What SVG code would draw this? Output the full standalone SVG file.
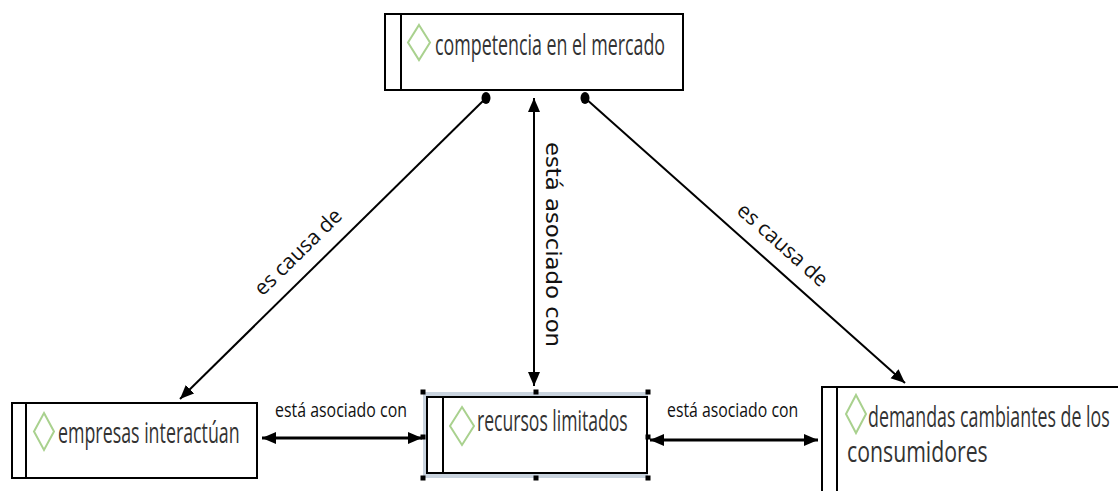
<svg xmlns="http://www.w3.org/2000/svg" width="1118" height="491" viewBox="0 0 1118 491">
<style>
.box{fill:#fff;stroke:#000;stroke-width:2}
.bar{stroke:#000;stroke-width:2}
.dia{fill:none;stroke:#a9d18e;stroke-width:2}
.nt{font-family:"Open Sans","Noto Sans",sans-serif;font-size:29px;fill:#333}
.lt{font-family:"Open Sans","DejaVu Sans",sans-serif;font-size:21px;fill:#111}
.vt{font-family:"DejaVu Sans",Verdana,sans-serif;font-size:22px;fill:#111}
.ht{font-family:"Open Sans","Noto Sans",sans-serif;font-size:20px;fill:#111}
.c{fill:none;stroke:#000;stroke-width:2}
.c3{fill:none;stroke:#000;stroke-width:3}
.h{fill:#000}
</style>
<defs>
<marker id="ah" markerUnits="userSpaceOnUse" markerWidth="16" markerHeight="14" refX="14" refY="6" orient="auto-start-reverse">
<path d="M0,0 L14,6 L0,12 Z" fill="#000"/>
</marker>
</defs>
<rect width="1118" height="491" fill="#fff"/>

<g id="connectors">
<line class="c" x1="486" y1="98" x2="180" y2="399" marker-end="url(#ah)"/>
<ellipse cx="486" cy="98" rx="4.5" ry="6" fill="#000"/>
<line class="c" x1="585" y1="98" x2="905" y2="383" marker-end="url(#ah)"/>
<ellipse cx="585" cy="98" rx="4.5" ry="6" fill="#000"/>
<line class="c" x1="534" y1="98" x2="534" y2="386" marker-start="url(#ah)" marker-end="url(#ah)"/>
<line class="c3" x1="262" y1="438" x2="422" y2="438" marker-start="url(#ah)" marker-end="url(#ah)"/>
<line class="c3" x1="650" y1="440" x2="818" y2="440" marker-start="url(#ah)" marker-end="url(#ah)"/>
<text class="lt" transform="translate(303,257) rotate(-44.5)" text-anchor="middle">es causa de</text>
<text class="lt" transform="translate(778,250) rotate(41.7)" text-anchor="middle">es causa de</text>
<text class="vt" transform="translate(546,142) rotate(90)" textLength="205" lengthAdjust="spacingAndGlyphs">está asociado con</text>
<text class="ht" transform="translate(275,417) scale(0.8,1)" textLength="165" lengthAdjust="spacingAndGlyphs">está asociado con</text>
<text class="ht" transform="translate(667,417) scale(0.8,1)" textLength="164" lengthAdjust="spacingAndGlyphs">está asociado con</text>
</g>

<g id="node-competencia">
<rect class="box" x="385" y="14" width="298" height="76"/>
<line class="bar" x1="401" y1="14" x2="401" y2="90"/>
<path class="dia" d="M419,25 L430,42.5 L419,60 L408,42.5 Z"/>
<text class="nt" transform="translate(435,55) scale(0.62,1)" textLength="371" lengthAdjust="spacingAndGlyphs">competencia en el mercado</text>
</g>

<g id="node-empresas">
<rect class="box" x="12" y="403" width="245" height="75"/>
<line class="bar" x1="26" y1="403" x2="26" y2="478"/>
<path class="dia" d="M44,413 L54,431.5 L44,450 L34,431.5 Z"/>
<text class="nt" transform="translate(58,443) scale(0.62,1)" textLength="293" lengthAdjust="spacingAndGlyphs">empresas interactúan</text>
</g>

<g id="node-recursos">
<rect x="423" y="392" width="225" height="86" fill="#c9d3de"/>
<rect class="box" x="427" y="397" width="220" height="76"/>
<line class="bar" x1="443" y1="397" x2="443" y2="473"/>
<path class="dia" d="M462,407 L474,426 L462,445 L450,426 Z"/>
<text class="nt" transform="translate(477,431) scale(0.62,1)" textLength="243" lengthAdjust="spacingAndGlyphs">recursos limitados</text>
<g class="h">
<rect x="420.5" y="389.5" width="5" height="5"/>
<rect x="533.5" y="389.5" width="5" height="5"/>
<rect x="645.5" y="389.5" width="5" height="5"/>
<rect x="420.5" y="434.5" width="5" height="5"/>
<rect x="645.5" y="434.5" width="5" height="5"/>
<rect x="420.5" y="475.5" width="5" height="5"/>
<rect x="533.5" y="475.5" width="5" height="5"/>
<rect x="645.5" y="475.5" width="5" height="5"/>
</g>
</g>

<g id="node-demandas">
<rect class="box" x="822" y="387" width="310" height="120"/>
<line class="bar" x1="837" y1="387" x2="837" y2="491"/>
<path class="dia" d="M856,395 L866,414 L856,433 L846,414 Z"/>
<text class="nt" transform="translate(868,427) scale(0.62,1)" textLength="390" lengthAdjust="spacingAndGlyphs">demandas cambiantes de los</text>
<text class="nt" transform="translate(847,462) scale(0.62,1)" textLength="227" lengthAdjust="spacingAndGlyphs">consumidores</text>
</g>
</svg>
